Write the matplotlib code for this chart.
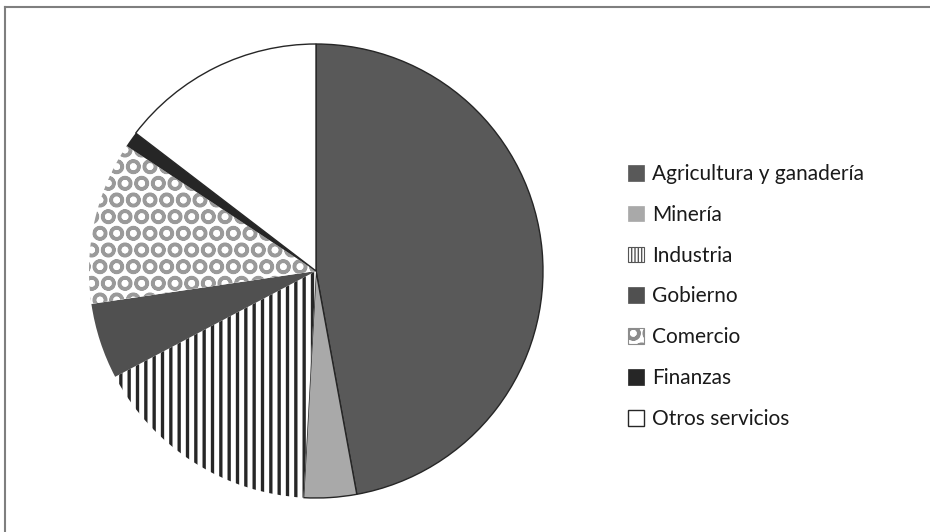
import matplotlib
matplotlib.use("Agg")
import matplotlib.pyplot as plt
from matplotlib.lines import Line2D

plt.rcParams['font.family'] = ['Lato', 'DejaVu Sans']
plt.rcParams['hatch.linewidth'] = 2.4

categories = ["Agricultura y ganadería", "Minería", "Industria", "Gobierno",
              "Comercio", "Finanzas", "Otros servicios"]
values = [47.1, 3.75, 16.4, 5.4, 11.6, 1.1, 14.6]

facecolors = ["#595959", "#a9a9a9", "white", "#505050", "white", "#262626", "white"]
edgecolors = ["#262626", "#262626", "#262626", "#262626", "#9a9a9a", "#262626", "#262626"]
linewidths = [1.0, 1.0, 0.0, 0.0, 0.0, 0.0, 1.0]
hatches = [None, None, "||", None, "O", None, None]

W, H = 930, 532
fig = plt.figure(figsize=(W / 100, H / 100), dpi=100)
fig.patch.set_facecolor("white")

cx, cy, r = 316, 271, 227
ax = fig.add_axes([(cx - r) / W, (H - cy - r) / H, 2 * r / W, 2 * r / H])
wedges, _ = ax.pie(values, startangle=90, counterclock=False, radius=1.0,
                   colors=facecolors)
for w, ec, lw, h in zip(wedges, edgecolors, linewidths, hatches):
    w.set_edgecolor(ec)
    w.set_linewidth(lw)
    if h:
        w.set_hatch(h)
ax.set_xlim(-1, 1)
ax.set_ylim(-1, 1)
ax.set_aspect("equal")
ax.axis("off")

leg = fig.legend(wedges, categories, loc="upper left",
                 bbox_to_anchor=(628 / W, 1 - 164 / H),
                 frameon=False, fontsize=15, handlelength=0.79,
                 handleheight=0.79, handletextpad=0.35, labelspacing=1.0,
                 borderpad=0, borderaxespad=0)
for t in leg.get_texts():
    t.set_color("#1a1a1a")
handles = leg.legend_handles
for i in (0, 1, 3, 5):
    handles[i].set_edgecolor(facecolors[i])
    handles[i].set_linewidth(0.5)
# Industria handle: fine stripes with grey outline
handles[2].set_hatch("|||||")
handles[2].set_edgecolor("#555555")
handles[2].set_linewidth(0.8)
if hasattr(handles[2], "set_hatch_linewidth"):
    handles[2].set_hatch_linewidth(1.0)
handles[4].set_edgecolor("#8c8c8c")
handles[4].set_linewidth(0.8)

fig.add_artist(Line2D([4.5 / W, 1.0], [1 - 7 / H, 1 - 7 / H],
                      transform=fig.transFigure, color="#7f7f7f", lw=1.5))
fig.add_artist(Line2D([4.5 / W, 4.5 / W], [0, 1 - 7 / H],
                      transform=fig.transFigure, color="#7f7f7f", lw=1.5))

fig.savefig("out.png", dpi=100, facecolor="white")
